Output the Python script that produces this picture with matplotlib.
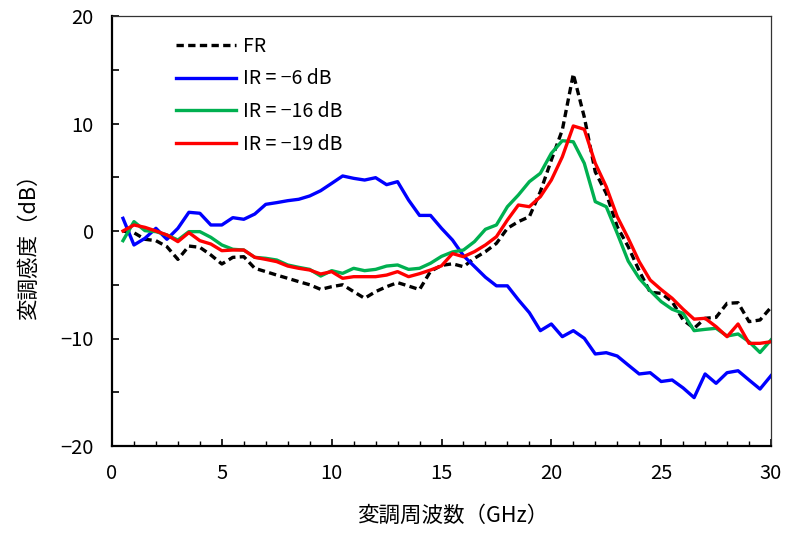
import matplotlib
matplotlib.use("Agg")
import matplotlib.pyplot as plt
from matplotlib.ticker import MultipleLocator

plt.rcParams['font.family'] = ['Noto Sans CJK JP', 'DejaVu Sans']

freq = [0.5, 1.0, 1.5, 2.0, 2.5, 3.0, 3.5, 4.0, 4.5, 5.0,
        5.5, 6.0, 6.5, 7.0, 7.5, 8.0, 8.5, 9.0, 9.5, 10.0,
        10.5, 11.0, 11.5, 12.0, 12.5, 13.0, 13.5, 14.0, 14.5, 15.0,
        15.5, 16.0, 16.5, 17.0, 17.5, 18.0, 18.5, 19.0, 19.5, 20.0,
        20.5, 21.0, 21.5, 22.0, 22.5, 23.0, 23.5, 24.0, 24.5, 25.0,
        25.5, 26.0, 26.5, 27.0, 27.5, 28.0, 28.5, 29.0, 29.5, 30.0]

fr = [0.0, -0.16, -0.77, -0.9, -1.46, -2.64, -1.4, -1.52, -2.23, -3.07,
      -2.45, -2.39, -3.47, -3.78, -4.1, -4.4, -4.71, -5.0, -5.43, -5.18,
      -5.0, -5.64, -6.26, -5.64, -5.18, -4.8, -5.12, -5.45, -3.75, -3.2,
      -3.05, -3.32, -2.54, -1.92, -1.15, 0.25, 0.87, 1.33, 3.66, 6.6,
      9.4, 14.6, 10.6, 5.5, 3.5, 0.4, -1.46, -3.7, -5.7, -5.8,
      -6.57, -8.28, -9.05, -8.12, -8.03, -6.73, -6.67, -8.43, -8.28, -7.1]

ir6 = [1.18, -1.3, -0.68, 0.25, -0.77, 0.25, 1.74, 1.65, 0.56, 0.56,
       1.24, 1.09, 1.58, 2.48, 2.64, 2.82, 2.95, 3.26, 3.75, 4.43,
       5.12, 4.9, 4.74, 4.96, 4.31, 4.59, 2.88, 1.45, 1.45, 0.25,
       -0.84, -2.3, -3.3, -4.3, -5.1, -5.1, -6.4, -7.6, -9.27, -8.65,
       -9.83, -9.27, -9.98, -11.44, -11.32, -11.63, -12.47, -13.3, -13.18, -14.0,
       -13.86, -14.6, -15.5, -13.3, -14.17, -13.18, -13.0, -13.86, -14.7, -13.46]

ir16 = [-0.9, 0.87, 0.03, -0.06, -0.37, -0.84, -0.06, -0.06, -0.59, -1.3,
        -1.7, -1.77, -2.45, -2.54, -2.7, -3.16, -3.38, -3.57, -4.19, -3.69,
        -3.94, -3.47, -3.69, -3.57, -3.26, -3.16, -3.57, -3.47, -3.0, -2.36,
        -1.95, -1.77, -0.99, 0.16, 0.56, 2.26, 3.35, 4.59, 5.37, 7.23,
        8.4, 8.3, 6.3, 2.73, 2.26, -0.22, -2.8, -4.4, -5.55, -6.57,
        -7.28, -7.66, -9.27, -9.15, -9.05, -9.77, -9.58, -10.3, -11.3, -10.14]

ir19 = [0.0, 0.56, 0.34, 0.0, -0.37, -0.99, -0.15, -0.9, -1.21, -1.83,
        -1.77, -1.77, -2.45, -2.64, -2.85, -3.26, -3.47, -3.63, -4.0, -3.78,
        -4.4, -4.25, -4.25, -4.25, -4.1, -3.78, -4.25, -3.97, -3.63, -3.24,
        -2.1, -2.39, -1.92, -1.3, -0.53, 1.02, 2.42, 2.26, 3.19, 4.74,
        6.9, 9.77, 9.46, 6.3, 4.12, 1.33, -0.68, -2.85, -4.56, -5.45,
        -6.26, -7.28, -8.2, -8.12, -8.9, -9.83, -8.65, -10.45, -10.45, -10.3]

labels = ['FR', 'IR = \u22126 dB', 'IR = \u221216 dB', 'IR = \u221219 dB']
xticks = [0, 5, 10, 15, 20, 25, 30]
yticks = [-20, -10, 0, 10, 20]

fig = plt.figure(figsize=(7.86, 5.33), dpi=100)
ax = fig.add_axes([112/786, 1-446/533, (771-112)/786, (446-16)/533])

lw = 2.4
ax.plot(freq, fr, color='black', lw=lw, ls=(0, (2.2, 1.3)), label=labels[0])
ax.plot(freq, ir6, color='#0000FF', lw=lw, label=labels[1])
ax.plot(freq, ir16, color='#00B050', lw=lw, label=labels[2])
ax.plot(freq, ir19, color='#FF0000', lw=lw, label=labels[3])

ax.set_xlim(0, 30)
ax.set_ylim(-20, 20)
ax.set_xticks(xticks)
ax.set_yticks(yticks)
ax.set_yticklabels([f"{v}".replace('-', '\u2212') for v in yticks])
ax.xaxis.set_minor_locator(MultipleLocator(1))
ax.yaxis.set_minor_locator(MultipleLocator(5))
ax.tick_params(axis='both', which='major', direction='in', length=5, width=1.2,
               labelsize=14.5)
ax.tick_params(axis='x', which='minor', direction='in', length=3.5, width=1.0)
ax.tick_params(axis='y', which='minor', direction='in', length=5, width=1.2)
ax.tick_params(axis='x', which='major', pad=12)
ax.tick_params(axis='y', which='major', pad=13)

for s in ['left', 'bottom']:
    ax.spines[s].set_linewidth(1.6)
for s in ['top', 'right']:
    ax.spines[s].set_linewidth(0.9)
    ax.spines[s].set_color('#333333')

ax.set_xlabel('変調周波数（GHz）', fontsize=15.5, labelpad=15)
ax.xaxis.label.set_x(0.517)
ax.set_ylabel('変調感度（dB）', fontsize=15.5, labelpad=15)
ax.yaxis.label.set_y(0.475)

leg = ax.legend(loc='upper left', bbox_to_anchor=(0.07, 0.995), frameon=False,
                fontsize=14, handlelength=3.1, handletextpad=0.35,
                labelspacing=0.6)

fig.savefig('out.png', dpi=100)
